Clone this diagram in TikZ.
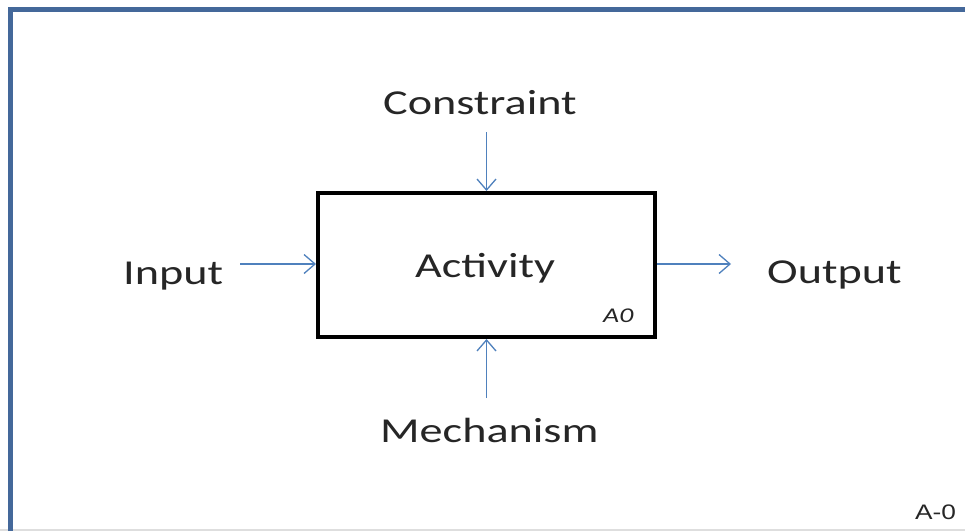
\documentclass[tikz,border=0pt]{standalone}
\usepackage{fontspec}
\usepackage{graphicx}
\setmainfont{Carlito}
\newfontfamily\tagfont{Liberation Sans}
\usetikzlibrary{arrows.meta}
\definecolor{framblue}{RGB}{68,104,154}
\definecolor{flowblue}{RGB}{79,129,189}
\definecolor{edgegray}{RGB}{222,222,222}
% wide lettering used throughout the sheet
\newcommand\widetext[2][1.32]{\scalebox{#1}[1]{#2}}
\begin{document}
\begin{tikzpicture}[x=1pt,y=-1pt,
  label text/.style={inner sep=0pt, anchor=base west, font=\fontsize{35}{40}\selectfont, text=black!85},
  flow/.style={draw=flowblue, line width=1.3pt,
    -{Straight Barb[length=11pt,width=19pt,line width=1.3pt]}},
  activity box/.style={draw=black, line width=4pt, fill=white,
    minimum width=337pt, minimum height=144pt, inner sep=0pt}]
  \useasboundingbox (0,0) rectangle (965,531);
  \fill[white] (0,0) rectangle (965,531);

  % sheet frame and lower edge
  \draw[edgegray, line width=1.5pt] (0,530) -- (965,530);
  \draw[framblue, line width=5pt, line join=miter] (10.5,531) -- (10.5,9.5) -- (965,9.5);

  % activity box
  \node[activity box] (act) at (486.5,265) {};
  \node[label text] (actname) at (415,277) {\widetext{Activity}};
  \node[inner sep=0pt, anchor=base west, font=\fontsize{21}{24}\selectfont\itshape, text=black!85]
    (actid) at (603,322) {\widetext{A0}};

  % ICOM labels
  \node[label text] (constraint) at (383,114) {\widetext{Constraint}};
  \node[label text] (input) at (123,284) {\widetext{Input}};
  \node[label text] (output) at (767,283) {\widetext{Output}};
  \node[label text] (mechanism) at (380,442) {\widetext{Mechanism}};

  % arrow ends away from the box
  \coordinate (cTop) at (486.5,132);
  \coordinate (mBot) at (486.5,398);
  \coordinate (iLeft) at (240,264);
  \coordinate (oRight) at (731,264);

  \draw[flow] (cTop) -- (act.north);
  \draw[flow] (mBot) -- (act.south);
  \draw[flow] (iLeft) -- (act.west |- iLeft);
  \draw[flow] (act.east |- oRight) -- (oRight);

  % diagram node number
  \node[inner sep=0pt, anchor=base west, font=\tagfont\fontsize{21}{24}\selectfont, text=black!85]
    (sheetid) at (915,519) {\widetext[1.25]{A-0}};
\end{tikzpicture}
\end{document}
